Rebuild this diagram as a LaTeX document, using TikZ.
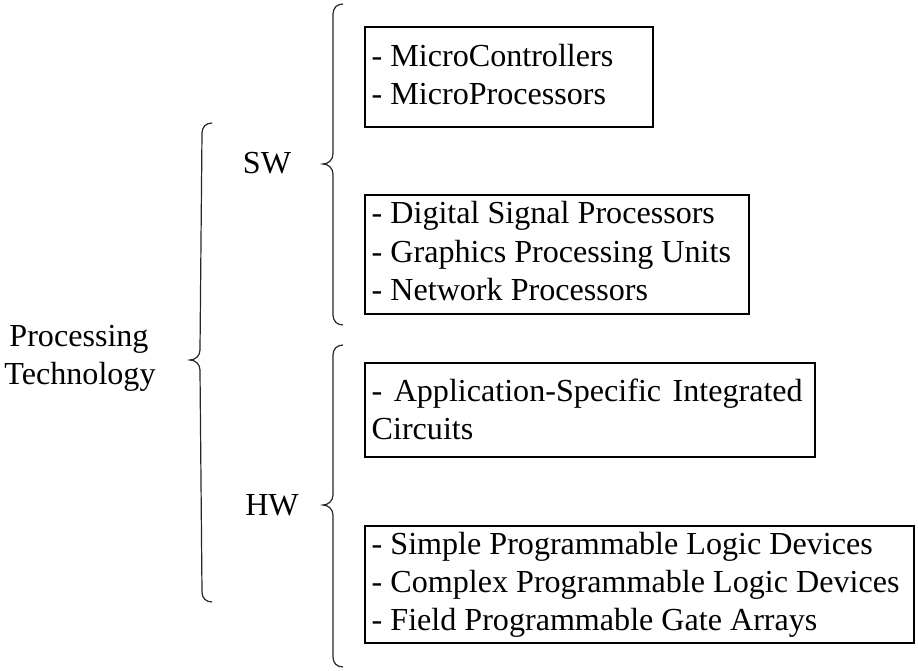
\documentclass[tikz,border=0pt]{standalone}
\usepackage{fontspec}
\setmainfont{Liberation Serif}
\usetikzlibrary{calc}

% curly brace opening to the right: top end, tip, bottom end
\newcommand\bracepath[3]{%
  \draw[brc] (#1) .. controls ($(#1)+(-6,0)$) and ($(#1)+(-10,4)$) .. ($(#1)+(-10,10)$)
    -- ($(#2)+(10,-10)$) .. controls ($(#2)+(10,-4)$) and ($(#2)+(5,0)$) .. (#2)
    .. controls ($(#2)+(5,0)$) and ($(#2)+(10,4)$) .. ($(#2)+(10,10)$)
    -- ($(#3)+(-10,-10)$) .. controls ($(#3)+(-10,-4)$) and ($(#3)+(-6,0)$) .. (#3);}

\begin{document}
\begin{tikzpicture}[x=1pt,y=-1pt,
  txt/.style={inner sep=0pt,anchor=base west,font=\fontsize{32.1}{38.5}\selectfont},
  lbl/.style={inner sep=0pt,anchor=base,font=\fontsize{32.1}{38.5}\selectfont},
  box/.style={draw=black,line width=1.7pt,inner sep=0pt},
  brc/.style={draw=black!85,line width=1.2pt}]
\useasboundingbox (0,0) rectangle (918,671);

% category boxes
\node[box,minimum width=288,minimum height=100] (b1) at (509,77) {};
\node[box,minimum width=384,minimum height=119] (b2) at (557,254.5) {};
\node[box,minimum width=450,minimum height=94]  (b3) at (590,410) {};
\node[box,minimum width=549,minimum height=117] (b4) at (639.5,584.5) {};

% box contents
\node[txt] (t11) at (371.5,67)  {- MicroControllers};
\node[txt] (t12) at (371.5,105) {- MicroProcessors};

\node[txt] (t21) at (371.5,224) {- Digital Signal Processors};
\node[txt] (t22) at (371.5,262) {- Graphics Processing Units};
\node[txt] (t23) at (371.5,300) {- Network Processors};

\node[txt] (t31) at (371.5,401) {\makebox[431pt][s]{- Application-Specific Integrated}};
\node[txt] (t32) at (371.5,439) {Circuits};

\node[txt] (t41) at (371.5,554) {- Simple Programmable Logic Devices};
\node[txt] (t42) at (371.5,592) {- Complex Programmable Logic Devices};
\node[txt] (t43) at (371.5,630) {- Field Programmable Gate Arrays};

% labels
\node[lbl] (p1) at (79,346) {Processing};
\node[lbl] (p2) at (80,384) {Technology};
\node[lbl] (sw) at (267,174) {SW};
\node[lbl] (hw) at (272,515) {HW};

% braces
\coordinate (pt) at (212,123);
\coordinate (pm) at (190,360);
\coordinate (pb) at (212,602);
\coordinate (st) at (343,4);
\coordinate (sm) at (323,164);
\coordinate (sb) at (343,325);
\coordinate (ht) at (343,345);
\coordinate (hm) at (323,505);
\coordinate (hb) at (343,667);
\bracepath{pt}{pm}{pb}
\bracepath{st}{sm}{sb}
\bracepath{ht}{hm}{hb}
\end{tikzpicture}
\end{document}
